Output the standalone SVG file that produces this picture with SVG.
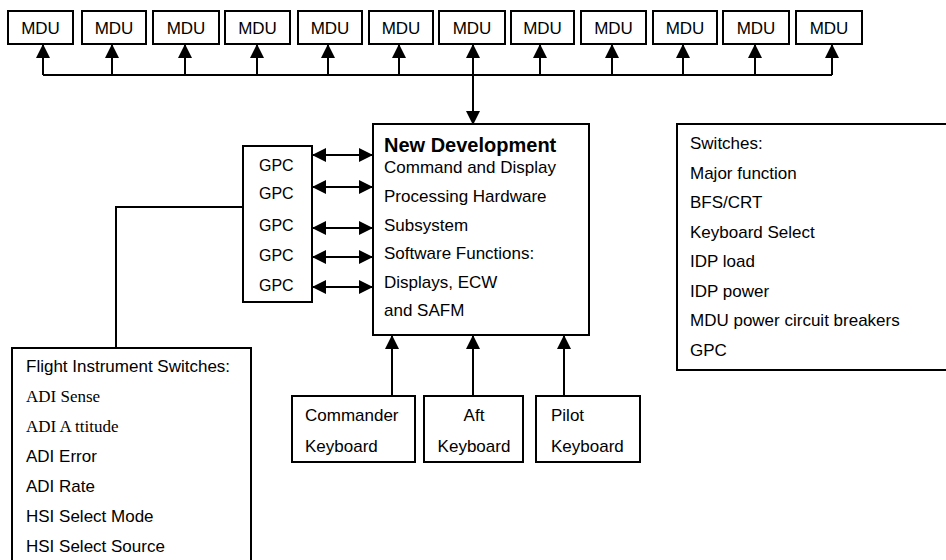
<svg xmlns="http://www.w3.org/2000/svg" width="946" height="560" viewBox="0 0 946 560">
  <style>
    .box { fill: #fff; stroke: #000; stroke-width: 2; }
    .wire { fill: none; stroke: #000; stroke-width: 2; }
    .t { font-family: "Liberation Sans", Arial, Helvetica, sans-serif; font-size: 17px; fill: #000; }
    .ts { font-family: "Liberation Serif", "Times New Roman", serif; font-size: 17px; fill: #000; }
    .gpc { font-size: 16px; }
    .mid { text-anchor: middle; }
    .title { font-weight: bold; font-size: 20px; }
  </style>
  <defs>
    <marker id="ah" viewBox="0 0 14 14" refX="13" refY="7" markerWidth="14" markerHeight="14" markerUnits="userSpaceOnUse" orient="auto-start-reverse">
      <path d="M0,0 L14,7 L0,14 Z" fill="#000"/>
    </marker>
  </defs>
  <rect width="946" height="560" fill="#fff"/>

  <!-- display units across the top -->
  <g id="mdu1"><rect class="box" x="8" y="11" width="65" height="33"/><text class="t mid" x="40.5" y="34">MDU</text></g>
  <g id="mdu2"><rect class="box" x="82" y="11" width="64" height="33"/><text class="t mid" x="114" y="34">MDU</text></g>
  <g id="mdu3"><rect class="box" x="153" y="11" width="66" height="33"/><text class="t mid" x="186" y="34">MDU</text></g>
  <g id="mdu4"><rect class="box" x="225" y="11" width="65" height="33"/><text class="t mid" x="257.5" y="34">MDU</text></g>
  <g id="mdu5"><rect class="box" x="298" y="11" width="64" height="33"/><text class="t mid" x="330" y="34">MDU</text></g>
  <g id="mdu6"><rect class="box" x="369" y="11" width="64" height="33"/><text class="t mid" x="401" y="34">MDU</text></g>
  <g id="mdu7"><rect class="box" x="439" y="11" width="66" height="33"/><text class="t mid" x="472" y="34">MDU</text></g>
  <g id="mdu8"><rect class="box" x="511" y="11" width="63" height="33"/><text class="t mid" x="542.5" y="34">MDU</text></g>
  <g id="mdu9"><rect class="box" x="581" y="11" width="65" height="33"/><text class="t mid" x="613.5" y="34">MDU</text></g>
  <g id="mdu10"><rect class="box" x="653" y="11" width="64" height="33"/><text class="t mid" x="685" y="34">MDU</text></g>
  <g id="mdu11"><rect class="box" x="723" y="11" width="66" height="33"/><text class="t mid" x="756" y="34">MDU</text></g>
  <g id="mdu12"><rect class="box" x="796" y="11" width="66" height="33"/><text class="t mid" x="829" y="34">MDU</text></g>

  <!-- central processing subsystem -->
  <g id="cdp">
    <rect class="box" x="373" y="124" width="216" height="211"/>
    <text class="t title" x="384" y="152">New Development</text>
    <text class="t" x="384" y="173">Command and Display</text>
    <text class="t" x="384" y="202">Processing Hardware</text>
    <text class="t" x="384" y="231">Subsystem</text>
    <text class="t" x="384" y="259">Software Functions:</text>
    <text class="t" x="384" y="288">Displays, ECW</text>
    <text class="t" x="384" y="316">and SAFM</text>
  </g>

  <!-- general purpose computers -->
  <g id="gpc">
    <rect class="box" x="243" y="146" width="69" height="156"/>
    <text class="t gpc" x="259" y="171">GPC</text>
    <text class="t gpc" x="259" y="199">GPC</text>
    <text class="t gpc" x="259" y="231">GPC</text>
    <text class="t gpc" x="259" y="261">GPC</text>
    <text class="t gpc" x="259" y="291">GPC</text>
  </g>

  <!-- panel switches -->
  <g id="switches">
    <rect class="box" x="677" y="124" width="280" height="246"/>
    <text class="t" x="690" y="149">Switches:</text>
    <text class="t" x="690" y="178.5">Major function</text>
    <text class="t" x="690" y="208">BFS/CRT</text>
    <text class="t" x="690" y="237.5">Keyboard Select</text>
    <text class="t" x="690" y="267">IDP load</text>
    <text class="t" x="690" y="296.5">IDP power</text>
    <text class="t" x="690" y="326">MDU power circuit breakers</text>
    <text class="t" x="690" y="355.5">GPC</text>
  </g>

  <!-- flight instrument switches -->
  <g id="flight">
    <rect class="box" x="12" y="348" width="239" height="230"/>
    <text class="t" x="26" y="372">Flight Instrument Switches:</text>
    <text class="ts" x="26" y="402">ADI Sense</text>
    <text class="ts" x="26" y="432">ADI A ttitude</text>
    <text class="t" x="26" y="462">ADI Error</text>
    <text class="t" x="26" y="492">ADI Rate</text>
    <text class="t" x="26" y="522">HSI Select Mode</text>
    <text class="t" x="26" y="552">HSI Select Source</text>
  </g>

  <!-- keyboards -->
  <g id="kb-cdr">
    <rect class="box" x="292" y="396" width="123" height="66"/>
    <text class="t" x="305" y="421">Commander</text>
    <text class="t" x="305" y="452">Keyboard</text>
  </g>
  <g id="kb-aft">
    <rect class="box" x="424" y="396" width="99" height="66"/>
    <text class="t mid" x="474" y="421">Aft</text>
    <text class="t mid" x="474" y="452">Keyboard</text>
  </g>
  <g id="kb-plt">
    <rect class="box" x="536" y="396" width="104" height="66"/>
    <text class="t" x="551" y="421">Pilot</text>
    <text class="t" x="551" y="452">Keyboard</text>
  </g>

  <g id="connectors">
    <!-- display bus -->
    <path class="wire" d="M43,75 H832"/>
    <path class="wire" d="M43,75 V45" marker-end="url(#ah)"/>
    <path class="wire" d="M112,75 V45" marker-end="url(#ah)"/>
    <path class="wire" d="M185,75 V45" marker-end="url(#ah)"/>
    <path class="wire" d="M257,75 V45" marker-end="url(#ah)"/>
    <path class="wire" d="M328,75 V45" marker-end="url(#ah)"/>
    <path class="wire" d="M399,75 V45" marker-end="url(#ah)"/>
    <path class="wire" d="M473,124 V45" marker-start="url(#ah)" marker-end="url(#ah)"/>
    <path class="wire" d="M540,75 V45" marker-end="url(#ah)"/>
    <path class="wire" d="M612,75 V45" marker-end="url(#ah)"/>
    <path class="wire" d="M683,75 V45" marker-end="url(#ah)"/>
    <path class="wire" d="M755,75 V45" marker-end="url(#ah)"/>
    <path class="wire" d="M832,75 V45" marker-end="url(#ah)"/>
    <!-- GPC links -->
    <path class="wire" d="M313,155 H372" marker-start="url(#ah)" marker-end="url(#ah)"/>
    <path class="wire" d="M313,187 H372" marker-start="url(#ah)" marker-end="url(#ah)"/>
    <path class="wire" d="M313,228 H372" marker-start="url(#ah)" marker-end="url(#ah)"/>
    <path class="wire" d="M313,257 H372" marker-start="url(#ah)" marker-end="url(#ah)"/>
    <path class="wire" d="M313,287 H372" marker-start="url(#ah)" marker-end="url(#ah)"/>
    <!-- flight instrument switches to GPC -->
    <path class="wire" d="M243,207 H116 V348"/>
    <!-- keyboards -->
    <path class="wire" d="M392,396 V336" marker-end="url(#ah)"/>
    <path class="wire" d="M473,396 V336" marker-end="url(#ah)"/>
    <path class="wire" d="M564,396 V336" marker-end="url(#ah)"/>
  </g>
</svg>
